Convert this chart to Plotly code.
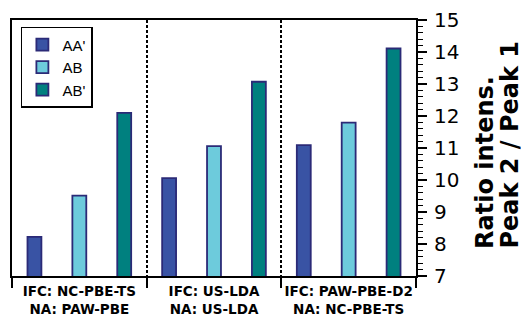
import plotly.graph_objects as go

groups = [0, 1, 2]
group_labels = [
    "IFC: NC-PBE-TS<br>NA: PAW-PBE",
    "IFC: US-LDA<br>NA: US-LDA",
    "IFC: PAW-PBE-D2<br>NA: NC-PBE-TS",
]
series_names = ["AA'", "AB", "AB'"]
aa_prime = [8.22, 10.06, 11.09]
ab = [9.51, 11.06, 11.79]
ab_prime = [12.10, 13.07, 14.11]
colors = ["#3953A4", "#6DCBDC", "#00807F"]
y_ticks = [7, 8, 9, 10, 11, 12, 13, 14, 15]
y_title_lines = ["Ratio intens.", "Peak 2 / Peak 1"]

fig = go.Figure()
for name, vals, col in zip(series_names, [aa_prime, ab, ab_prime], colors):
    fig.add_trace(go.Bar(
        x=groups, y=vals, name=name,
        marker=dict(color=col, line=dict(color="#2B2A77", width=1.8)),
    ))

fig.update_layout(
    width=521, height=320,
    margin=dict(l=12, r=105, t=20, b=44),
    paper_bgcolor="white", plot_bgcolor="white",
    barmode="group", bargap=0.0, bargroupgap=0.69,
    showlegend=True,
    legend=dict(
        x=0.022, y=0.973, xanchor="left", yanchor="top",
        bgcolor="white", bordercolor="black", borderwidth=1.5,
        font=dict(family="Liberation Sans, Arial", size=15, color="black"),
        itemwidth=30, tracegroupgap=0,
    ),
    font=dict(family="DejaVu Sans", color="black"),
)

fig.update_xaxes(
    range=[-0.5, 2.5], automargin=False,
    tickmode="array", tickvals=groups, ticktext=[f"<b>{t}</b>" for t in group_labels],
    ticks="", ticklabelstandoff=2,
    tickfont=dict(family="DejaVu Sans", size=13.5, color="black"),
    showline=True, linecolor="black", linewidth=2, mirror=True,
    showgrid=False, zeroline=False,
    minor=dict(ticks="outside", ticklen=10, tickwidth=2, tickcolor="black",
               tick0=0.5, dtick=1, showgrid=True, gridcolor="black",
               gridwidth=2, griddash="3px,2px"),
)

fig.update_yaxes(
    range=[7, 15], side="right", automargin=False,
    tickmode="array", tickvals=y_ticks,
    ticks="outside", ticklen=9, tickwidth=1.5, tickcolor="black",
    ticklabelstandoff=3,
    tickfont=dict(family="DejaVu Sans", size=20, color="black"),
    showline=True, linecolor="black", linewidth=2, mirror=True,
    showgrid=False, zeroline=False,
    minor=dict(ticks="outside", ticklen=5, tickwidth=1.2, tickcolor="black",
               tick0=7, dtick=0.2, showgrid=False),
)

for line, xpos in zip(y_title_lines, [1.172, 1.232]):
    fig.add_annotation(
        text=f"<b>{line}</b>",
        xref="paper", yref="paper", x=xpos, y=0.102,
        xanchor="center", yanchor="bottom", textangle=-90, showarrow=False,
        borderpad=0,
        font=dict(family="DejaVu Sans", size=24, color="black"),
    )

fig.write_html(
    "out.html",
    config={"displayModeBar": False},
    post_script="document.body.style.margin='0';document.body.style.overflow='hidden';",
)
